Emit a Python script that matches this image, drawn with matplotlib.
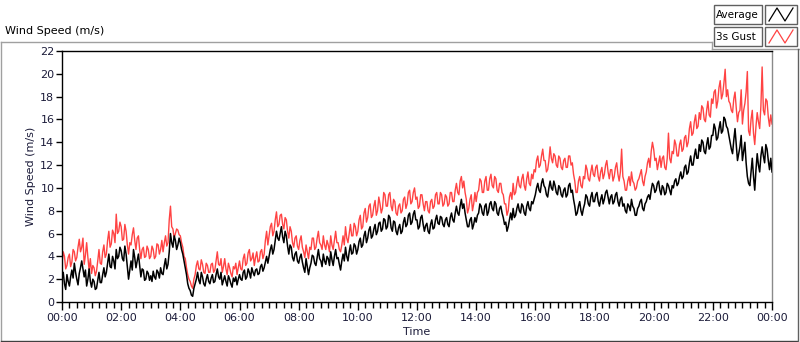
import numpy as np
import matplotlib
matplotlib.use("Agg")
import matplotlib.pyplot as plt
from matplotlib.lines import Line2D
from matplotlib.patches import Rectangle
from matplotlib.ticker import FuncFormatter, MultipleLocator

plt.rcParams['font.family'] = ['DejaVu Sans']

# 2.5-minute samples from 00:00 to 24:00 (one row per hour)
avg_speed = [
    2.0, 2.6, 1.6, 1.1, 2.4, 1.8, 1.4, 2.2, 2.8, 2.1, 3.4, 2.6, 2.0, 1.5, 2.5, 3.0, 3.6, 2.9, 2.2, 2.8, 1.4, 2.0, 2.9, 1.8,
    1.3, 2.0, 1.8, 1.1, 1.2, 1.9, 2.6, 1.7, 1.7, 2.4, 3.0, 2.2, 2.6, 3.4, 4.2, 3.1, 3.0, 4.0, 3.6, 2.9, 4.6, 3.8, 4.0, 4.8,
    4.5, 3.8, 3.6, 4.9, 4.2, 3.1, 2.0, 2.8, 3.6, 2.8, 4.6, 3.9, 3.0, 3.6, 4.2, 3.2, 2.2, 2.9, 2.8, 1.9, 2.0, 2.7, 2.5, 1.9,
    2.3, 1.8, 2.7, 2.2, 2.0, 2.8, 2.6, 2.1, 3.0, 2.5, 2.4, 3.2, 3.8, 2.9, 3.3, 4.4, 6.0, 5.2, 4.8, 5.8, 5.4, 4.6, 5.0, 5.6,
    5.2, 4.6, 4.2, 3.6, 3.0, 2.4, 1.6, 1.2, 1.0, 0.6, 0.5, 1.2, 1.6, 2.0, 2.6, 1.9, 1.6, 2.6, 2.2, 1.6, 1.4, 2.0, 2.4, 1.8,
    1.6, 2.1, 2.4, 1.7, 1.8, 2.4, 2.9, 2.2, 2.0, 2.6, 1.5, 1.9, 2.3, 1.8, 1.4, 2.3, 2.0, 1.6, 1.3, 2.1, 1.8, 2.2, 1.5, 2.0,
    2.4, 2.0, 1.9, 2.6, 2.8, 2.0, 2.2, 2.9, 2.6, 2.1, 3.0, 2.6, 2.3, 2.8, 2.9, 2.4, 2.5, 3.1, 3.3, 2.7, 3.0, 3.5, 4.0, 3.4,
    4.0, 4.6, 5.0, 4.2, 4.6, 5.4, 6.2, 5.6, 5.4, 6.0, 6.6, 5.7, 5.2, 6.2, 5.8, 4.9, 4.2, 5.0, 4.8, 3.9, 3.6, 4.2, 4.4, 3.6,
    3.4, 3.9, 4.2, 3.5, 3.0, 2.6, 3.8, 3.1, 2.4, 3.0, 3.4, 4.1, 4.0, 3.4, 3.2, 3.9, 4.6, 3.8, 3.6, 3.1, 4.2, 3.6, 3.3, 4.0,
    3.8, 3.2, 4.4, 3.7, 3.2, 4.0, 4.6, 3.8, 3.9, 3.3, 2.8, 3.6, 4.2, 3.6, 4.8, 4.0, 3.6, 4.4, 5.0, 4.2, 4.3, 5.1, 4.9, 4.2,
    4.6, 5.3, 5.6, 4.8, 5.0, 5.8, 6.2, 5.2, 5.6, 6.3, 6.6, 5.6, 5.8, 6.4, 6.8, 5.9, 6.2, 6.9, 7.0, 6.2, 6.4, 7.3, 7.2, 6.4,
    6.6, 7.6, 7.4, 6.5, 6.2, 7.1, 7.0, 6.2, 5.9, 6.5, 6.8, 6.0, 6.2, 7.0, 7.4, 6.6, 6.8, 7.6, 7.8, 6.8, 7.0, 7.7, 8.0, 7.2,
    7.2, 6.4, 6.6, 7.4, 7.6, 6.8, 6.2, 6.7, 6.9, 6.2, 6.0, 6.8, 7.2, 6.4, 6.5, 7.2, 7.6, 6.9, 6.8, 7.5, 7.4, 6.8, 6.6, 7.2,
    7.4, 6.8, 6.6, 7.4, 7.8, 7.2, 7.0, 7.8, 8.4, 7.8, 7.6, 8.4, 9.0, 8.2, 8.6, 7.8, 7.2, 6.6, 6.6, 7.2, 7.4, 6.4, 6.8, 7.4,
    7.0, 7.6, 7.8, 8.6, 8.4, 7.8, 7.6, 8.4, 8.6, 7.6, 7.9, 8.6, 8.8, 8.2, 8.0, 8.8, 8.6, 7.8, 7.6, 8.2, 8.4, 7.8, 7.4, 6.8,
    7.0, 6.2, 6.6, 7.2, 7.8, 7.2, 8.2, 7.4, 7.6, 8.2, 8.6, 8.0, 7.8, 8.6, 8.4, 7.8, 7.6, 8.4, 8.8, 8.2, 8.0, 8.8, 8.6, 9.0,
    9.4, 10.0, 10.4, 9.8, 9.6, 10.4, 10.8, 10.2, 10.0, 9.4, 9.2, 10.0, 10.6, 10.0, 9.8, 10.6, 10.2, 9.6, 9.4, 10.2, 10.0, 9.4, 9.2, 9.8,
    10.0, 9.2, 9.4, 10.2, 10.4, 9.6, 9.8, 9.0, 8.4, 7.6, 7.8, 8.4, 8.8, 8.0, 7.6, 8.2, 8.6, 9.4, 9.2, 8.6, 8.4, 9.2, 9.6, 8.8,
    8.8, 9.4, 9.6, 8.8, 8.4, 9.0, 9.4, 8.6, 9.0, 9.6, 9.8, 9.2, 8.6, 9.2, 9.4, 8.6, 8.8, 9.4, 9.6, 8.8, 8.4, 9.0, 9.2, 8.4,
    8.6, 8.0, 7.8, 8.6, 8.4, 8.0, 9.0, 8.4, 8.2, 7.6, 7.6, 8.2, 8.4, 8.8, 9.0, 8.2, 8.0, 8.6, 8.8, 9.2, 9.4, 9.0, 9.8, 10.4,
    10.2, 9.6, 9.8, 10.4, 10.6, 9.8, 9.4, 10.2, 10.0, 9.4, 9.6, 10.4, 10.2, 9.8, 9.4, 10.2, 10.0, 10.6, 10.8, 10.2, 10.4, 11.0, 11.4, 10.8,
    11.0, 11.8, 12.0, 11.2, 11.4, 12.2, 12.8, 12.0, 12.0, 12.8, 13.4, 12.6, 12.6, 13.8, 13.2, 14.2, 14.0, 13.2, 13.0, 13.8, 14.4, 13.4, 13.6, 14.6,
    14.6, 15.6, 15.2, 14.2, 14.4, 15.2, 15.8, 14.8, 15.0, 16.2, 16.0, 15.4, 15.2, 14.6, 14.0, 13.4, 13.0, 14.2, 15.2, 13.8, 12.4, 13.0, 13.6, 14.6,
    12.4, 13.2, 14.0, 12.2, 11.0, 10.4, 10.2, 11.4, 12.6, 11.0, 9.8, 11.6, 13.0, 12.0, 11.4, 12.8, 13.6, 12.8, 12.2, 13.8, 13.4, 12.4, 11.6, 12.6,
    11.4,
]

gust_speed = [
    3.4, 4.4, 4.0, 2.9, 3.2, 3.9, 4.2, 3.1, 3.5, 4.6, 4.4, 3.6, 3.9, 4.8, 5.5, 4.4, 4.8, 5.6, 3.3, 4.1, 5.2, 3.9, 2.8, 3.8,
    2.5, 3.2, 3.0, 2.3, 2.7, 3.6, 4.6, 3.4, 3.3, 4.4, 5.0, 3.9, 4.2, 5.4, 6.2, 4.8, 5.1, 6.3, 6.0, 5.2, 7.7, 6.0, 6.2, 7.0,
    6.6, 5.4, 5.5, 6.8, 6.2, 5.0, 4.2, 5.2, 5.0, 5.9, 6.5, 5.4, 4.6, 5.6, 5.8, 4.6, 3.8, 4.6, 4.8, 3.9, 4.0, 4.9, 4.6, 3.8,
    4.0, 4.9, 4.6, 3.8, 4.0, 5.1, 5.0, 4.2, 4.6, 5.4, 4.4, 5.2, 5.8, 4.9, 5.2, 7.2, 8.4, 6.6, 6.4, 5.6, 6.0, 6.4, 6.3, 5.9,
    5.8, 5.2, 4.8, 4.0, 3.8, 3.0, 2.4, 2.0, 1.8, 1.4, 1.2, 2.0, 2.4, 3.2, 3.6, 2.9, 2.8, 3.7, 3.3, 2.6, 2.5, 3.4, 3.2, 2.6,
    2.6, 3.3, 3.4, 2.6, 2.8, 3.6, 4.4, 3.3, 3.2, 3.8, 2.6, 3.1, 3.8, 2.9, 2.4, 3.4, 3.0, 2.5, 2.2, 3.1, 2.9, 3.4, 2.4, 3.0,
    3.6, 2.9, 2.8, 3.8, 4.2, 3.2, 3.4, 4.3, 4.6, 3.6, 3.8, 4.3, 3.2, 3.9, 4.4, 3.5, 3.6, 4.4, 4.6, 3.8, 4.2, 5.4, 6.2, 5.0,
    5.8, 6.6, 6.9, 5.8, 6.2, 7.2, 7.9, 6.6, 6.8, 7.6, 7.7, 6.8, 6.4, 7.4, 7.2, 6.2, 5.6, 6.6, 6.2, 5.2, 4.8, 5.6, 5.8, 4.9,
    4.6, 5.4, 5.8, 4.8, 4.4, 3.9, 5.0, 4.4, 3.8, 4.8, 4.6, 5.6, 5.6, 4.6, 4.8, 5.6, 6.2, 5.2, 5.0, 4.6, 5.8, 5.0, 4.6, 5.4,
    5.0, 4.4, 5.8, 5.0, 4.6, 5.4, 6.2, 5.2, 5.2, 4.6, 4.4, 5.0, 5.8, 5.0, 6.6, 5.6, 5.2, 6.0, 6.8, 5.8, 5.8, 6.9, 6.6, 5.8,
    6.2, 7.2, 7.6, 6.4, 6.6, 7.8, 8.2, 7.0, 7.4, 8.4, 8.6, 7.4, 7.6, 8.4, 8.9, 7.6, 8.0, 9.2, 8.6, 7.8, 8.2, 9.6, 9.4, 8.4,
    8.4, 9.4, 9.6, 8.4, 8.0, 9.0, 8.8, 7.8, 7.6, 8.4, 8.6, 7.8, 8.0, 9.0, 9.2, 8.2, 8.6, 9.6, 9.8, 8.6, 8.8, 9.6, 10.0, 9.0,
    9.2, 8.2, 8.4, 9.4, 9.4, 8.6, 8.0, 8.8, 8.8, 8.0, 7.8, 8.8, 9.0, 8.2, 8.4, 9.4, 9.6, 8.6, 8.6, 9.6, 9.4, 8.4, 8.6, 9.4,
    9.2, 8.4, 8.6, 9.6, 9.6, 8.8, 8.8, 9.8, 10.4, 9.6, 9.4, 10.6, 11.0, 10.0, 10.6, 9.6, 9.0, 7.8, 8.2, 9.0, 9.4, 8.0, 8.6, 9.6,
    8.8, 9.6, 9.8, 10.8, 10.6, 9.6, 9.6, 10.6, 11.0, 9.8, 9.8, 10.8, 11.2, 10.2, 10.0, 11.0, 10.8, 9.8, 9.6, 10.4, 10.4, 9.6, 9.4, 8.6,
    8.6, 7.6, 8.0, 9.2, 9.6, 9.0, 10.4, 9.4, 9.6, 10.4, 11.0, 10.2, 10.0, 10.8, 11.2, 10.2, 9.8, 10.8, 11.4, 10.4, 10.2, 11.2, 10.8, 11.6,
    11.4, 12.4, 12.8, 11.8, 12.0, 12.8, 13.4, 12.4, 12.4, 11.4, 11.6, 12.4, 13.6, 12.6, 12.2, 13.0, 12.8, 12.0, 11.8, 12.8, 12.6, 11.8, 11.6, 12.4,
    12.6, 11.8, 11.8, 12.8, 12.8, 12.0, 12.2, 11.2, 10.6, 9.6, 9.6, 10.6, 11.0, 10.2, 10.0, 11.0, 10.8, 12.0, 11.6, 10.8, 10.6, 11.4, 12.0, 11.2,
    11.0, 11.8, 12.0, 11.0, 10.6, 11.4, 11.8, 10.8, 11.2, 12.0, 12.4, 11.4, 10.8, 11.6, 11.6, 10.6, 11.0, 11.8, 12.2, 11.2, 10.6, 11.4, 13.4, 11.0,
    10.6, 9.8, 9.8, 10.6, 11.0, 10.2, 11.4, 10.6, 10.4, 9.8, 10.0, 10.6, 10.8, 11.2, 11.6, 10.6, 10.2, 11.0, 11.4, 12.2, 12.6, 11.8, 13.2, 14.0,
    13.4, 12.4, 12.6, 11.6, 12.2, 12.8, 11.8, 12.6, 12.8, 11.8, 11.6, 12.6, 14.8, 12.6, 12.2, 13.2, 13.0, 14.2, 13.8, 12.8, 12.8, 13.8, 14.2, 13.2,
    13.4, 14.4, 14.6, 13.6, 14.0, 15.2, 15.8, 14.6, 14.8, 15.8, 16.4, 15.2, 15.4, 16.6, 16.0, 17.2, 17.0, 16.0, 15.8, 16.8, 17.6, 16.4, 16.2, 17.8,
    17.4, 18.4, 18.6, 17.0, 17.6, 18.8, 19.4, 17.8, 18.2, 19.2, 20.4, 18.0, 18.6, 17.6, 17.4, 16.8, 16.6, 17.8, 18.4, 17.0, 15.8, 16.6, 16.8, 18.6,
    15.6, 16.8, 17.4, 18.4, 20.2, 15.0, 14.6, 16.0, 16.8, 14.8, 13.8, 15.4, 16.6, 15.8, 15.2, 17.2, 20.6, 16.8, 16.4, 17.8, 17.6, 16.2, 15.4, 16.4,
    15.6,
]

series_names = ["Average", "3s Gust"]
series_colors = ["#000000", "#ff4343"]
y_label = "Wind Speed (m/s)"
x_label = "Time"

minutes = np.arange(len(avg_speed)) * 2.5

fig = plt.figure(figsize=(8.0, 3.42), dpi=100)
W, H = 800, 342

def fx(px):
    return px / W

def fy(py):
    return 1 - py / H

ax = fig.add_axes([fx(62), fy(302), fx(772) - fx(62), fy(51) - fy(302)])
ax.plot(minutes, gust_speed, color=series_colors[1], lw=1.0, zorder=2)
ax.plot(minutes, avg_speed, color=series_colors[0], lw=1.1, zorder=3)

ax.set_xlim(0, 1440)
ax.set_ylim(0, 22)
ax.yaxis.set_major_locator(MultipleLocator(2))
ax.xaxis.set_major_locator(MultipleLocator(120))
ax.xaxis.set_minor_locator(MultipleLocator(15))
ax.xaxis.set_major_formatter(FuncFormatter(lambda v, p: "%02d:00" % ((int(round(v)) // 60) % 24)))

lab_color = "#1c1c3a"
ax.tick_params(axis='y', direction='out', length=4, width=1, labelsize=8, colors='black',
               labelcolor=lab_color, pad=1.5)
ax.tick_params(axis='x', which='major', direction='out', length=6, width=1, labelsize=8,
               labelcolor=lab_color, pad=2)
ax.tick_params(axis='x', which='minor', direction='out', length=4, width=1, color='black')

for s in ['top', 'left', 'bottom']:
    ax.spines[s].set_color('black')
    ax.spines[s].set_linewidth(1.0)
ax.spines['right'].set_color('#8a8a8a')
ax.spines['right'].set_linewidth(1.0)

ax.set_ylabel(y_label, fontsize=8, color=lab_color, labelpad=3)
ax.set_xlabel(x_label, fontsize=8, color=lab_color, labelpad=3)

# outer frame
frame_gray = '#a0a0a0'
fig.add_artist(Line2D([fx(0.5), fx(712)], [fy(42), fy(42)], color=frame_gray, lw=1))
fig.add_artist(Line2D([fx(712), fx(712)], [fy(42), fy(49)], color=frame_gray, lw=1))
fig.add_artist(Line2D([fx(712), fx(799)], [fy(49), fy(49)], color=frame_gray, lw=1))
fig.add_artist(Line2D([fx(0.5), fx(0.5)], [fy(42), fy(341)], color=frame_gray, lw=1))
fig.add_artist(Line2D([fx(0.5), fx(797)], [fy(340.5), fy(340.5)], color='#404040', lw=1))
fig.add_artist(Line2D([fx(797.5), fx(797.5)], [fy(49), fy(341)], color='#606060', lw=1))

fig.text(fx(5), fy(31), y_label, fontsize=8, color='black', ha='left', va='center')

# legend
rows = [(5, 24), (27, 46)]
for (top, bot), name, col in zip(rows, series_names, series_colors):
    fig.add_artist(Rectangle((fx(714), fy(bot)), fx(762) - fx(714), fy(top) - fy(bot),
                             facecolor='white', edgecolor='#606060', lw=1))
    fig.add_artist(Rectangle((fx(765), fy(bot)), fx(797) - fx(765), fy(top) - fy(bot),
                             facecolor='white', edgecolor='#606060', lw=1))
    fig.text(fx(716), fy((top + bot) / 2), name, fontsize=7.5, color='black', ha='left', va='center')
    xs = [fx(769), fx(777), fx(785), fx(793)]
    ys = [fy(bot - 3), fy(top + 3), fy(bot - 3), fy(top + 3)]
    fig.add_artist(Line2D(xs, ys, color=col, lw=0.9))

fig.savefig("out.png", dpi=100, facecolor='white')
